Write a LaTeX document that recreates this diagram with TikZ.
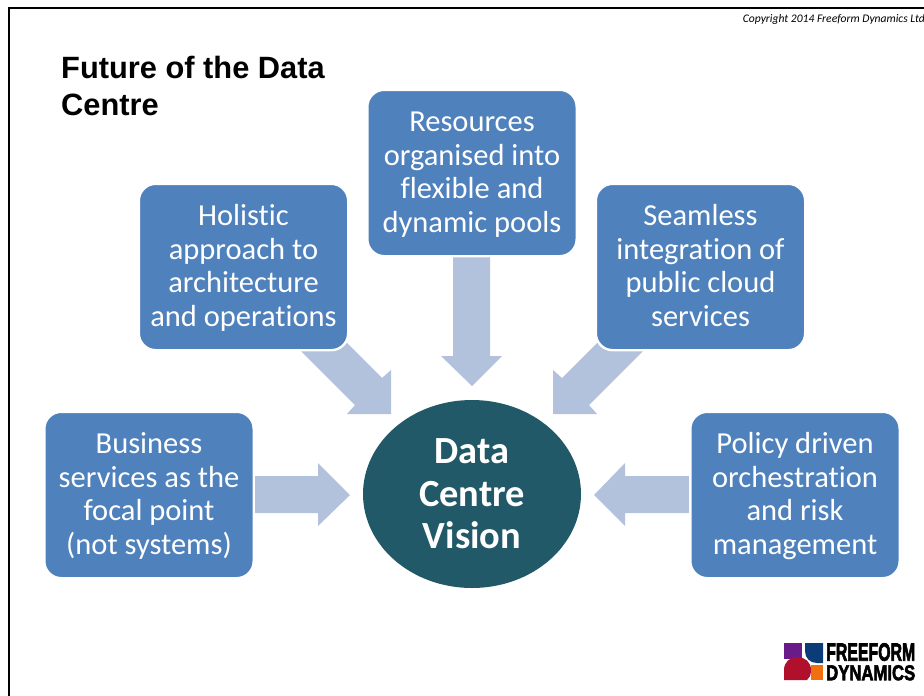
\documentclass[tikz,border=0pt]{standalone}
\usepackage{fontspec}
\setmainfont[Ligatures=NoCommon]{Carlito}
\newfontfamily\arialf{Liberation Sans}
\newfontfamily\logof[FakeBold=3]{Liberation Sans Bold}
\definecolor{boxblue}{HTML}{4F81BD}
\definecolor{arrowblue}{HTML}{B2C1DC}
\definecolor{visionteal}{HTML}{215968}
\definecolor{logopurple}{HTML}{6A1B8A}
\definecolor{logoblue}{HTML}{0B3C78}
\definecolor{logored}{HTML}{B0102B}
\definecolor{logoorange}{HTML}{F07010}
\newcommand{\tstr}{\rule[-7pt]{0pt}{32pt}}
\usetikzlibrary{shapes.geometric}
\tikzset{
  topic/.style={draw=white,line width=2.4pt,fill=boxblue,rounded corners=17pt,minimum width=209.4pt,minimum height=166.4pt,inner sep=0pt,align=center,text=white,font=\fontsize{30.5}{33.5}\selectfont},
  flow/.style={fill=arrowblue,draw=none},
  vision/.style={ellipse,fill=visionteal,minimum width=218pt,minimum height=188pt,inner sep=0pt,align=center,text=white,font=\fontsize{38.4}{42.5}\selectfont\bfseries},
  frameline/.style={line width=1.6pt,black}
}
\begin{document}
\begin{tikzpicture}[x=1pt,y=-1pt]
\useasboundingbox (0,0) rectangle (924,696);
\draw[frameline] (9,696) -- (9,8) -- (924,8);
% arrows
\fill[flow] (453,257) -- (490,257) -- (490,356) -- (502,356) -- (472,386) -- (441,356) -- (453,356) -- cycle;
\fill[flow] (329,325) -- (382,378) -- (391,370) -- (391,414) -- (347,414) -- (355,405) -- (299,349) -- cycle;
\fill[flow] (615,325) -- (562,378) -- (553,370) -- (553,414) -- (597,414) -- (589,405) -- (645,349) -- cycle;
\fill[flow] (254,476) -- (318,476) -- (318,463) -- (350,495) -- (318,526) -- (318,513) -- (254,513) -- cycle;
\fill[flow] (690,476) -- (625,476) -- (625,463) -- (594,495) -- (625,526) -- (625,513) -- (690,513) -- cycle;
% boxes
\node[topic] (holistic) at (243.5,267) {\tstr Holistic\\approach to\\architecture\\\tstr and operations};
\node[topic] (pools) at (472,173) {\tstr Resources\\organised into\\flexible and\\\tstr dynamic pools};
\node[topic] (cloud) at (700.5,267) {\tstr Seamless\\integration of\\public cloud\\\tstr services};
\node[topic] (business) at (149,495) {\tstr Business\\services as the\\focal point\\\tstr (not systems)};
\node[topic] (policy) at (795,495) {\tstr Policy driven\\orchestration\\and risk\\\tstr management};
\node[vision] (centre) at (472,494) {Data\\Centre\\Vision};
% title and copyright
\node[anchor=north west,inner sep=0pt,align=left,font=\arialf\bfseries\fontsize{30.8}{37}\selectfont] (title) at (61,56) {Future of the Data\\Centre};
\node[anchor=east,inner sep=0pt,font=\itshape\fontsize{11.6}{12}\selectfont] (copy) at (925,19.5) {Copyright 2014 Freeform Dynamics Ltd};
% logo
\fill[logopurple] (784,643) rectangle (802,659);
\fill[logoorange] (811,665) rectangle (823,680);
\fill[logoblue] (805,643) -- (823,643) -- (823,663) -- (817,663) .. controls (810,663) and (805,658) .. (805,651) -- cycle;
\fill[logored] (784,680) -- (784,670) .. controls (784,662) and (790,657) .. (797,657) .. controls (805,657) and (811,662) .. (811,670) .. controls (811,676) and (809,678) .. (807,680) -- cycle;
\node[anchor=north west,inner sep=0pt] (logoa) at (826,643) {\resizebox{89pt}{17.5pt}{\logof FREEFORM}};
\node[anchor=north west,inner sep=0pt] (logob) at (826,665) {\resizebox{89pt}{15pt}{\logof DYNAMICS}};
\end{tikzpicture}
\end{document}
